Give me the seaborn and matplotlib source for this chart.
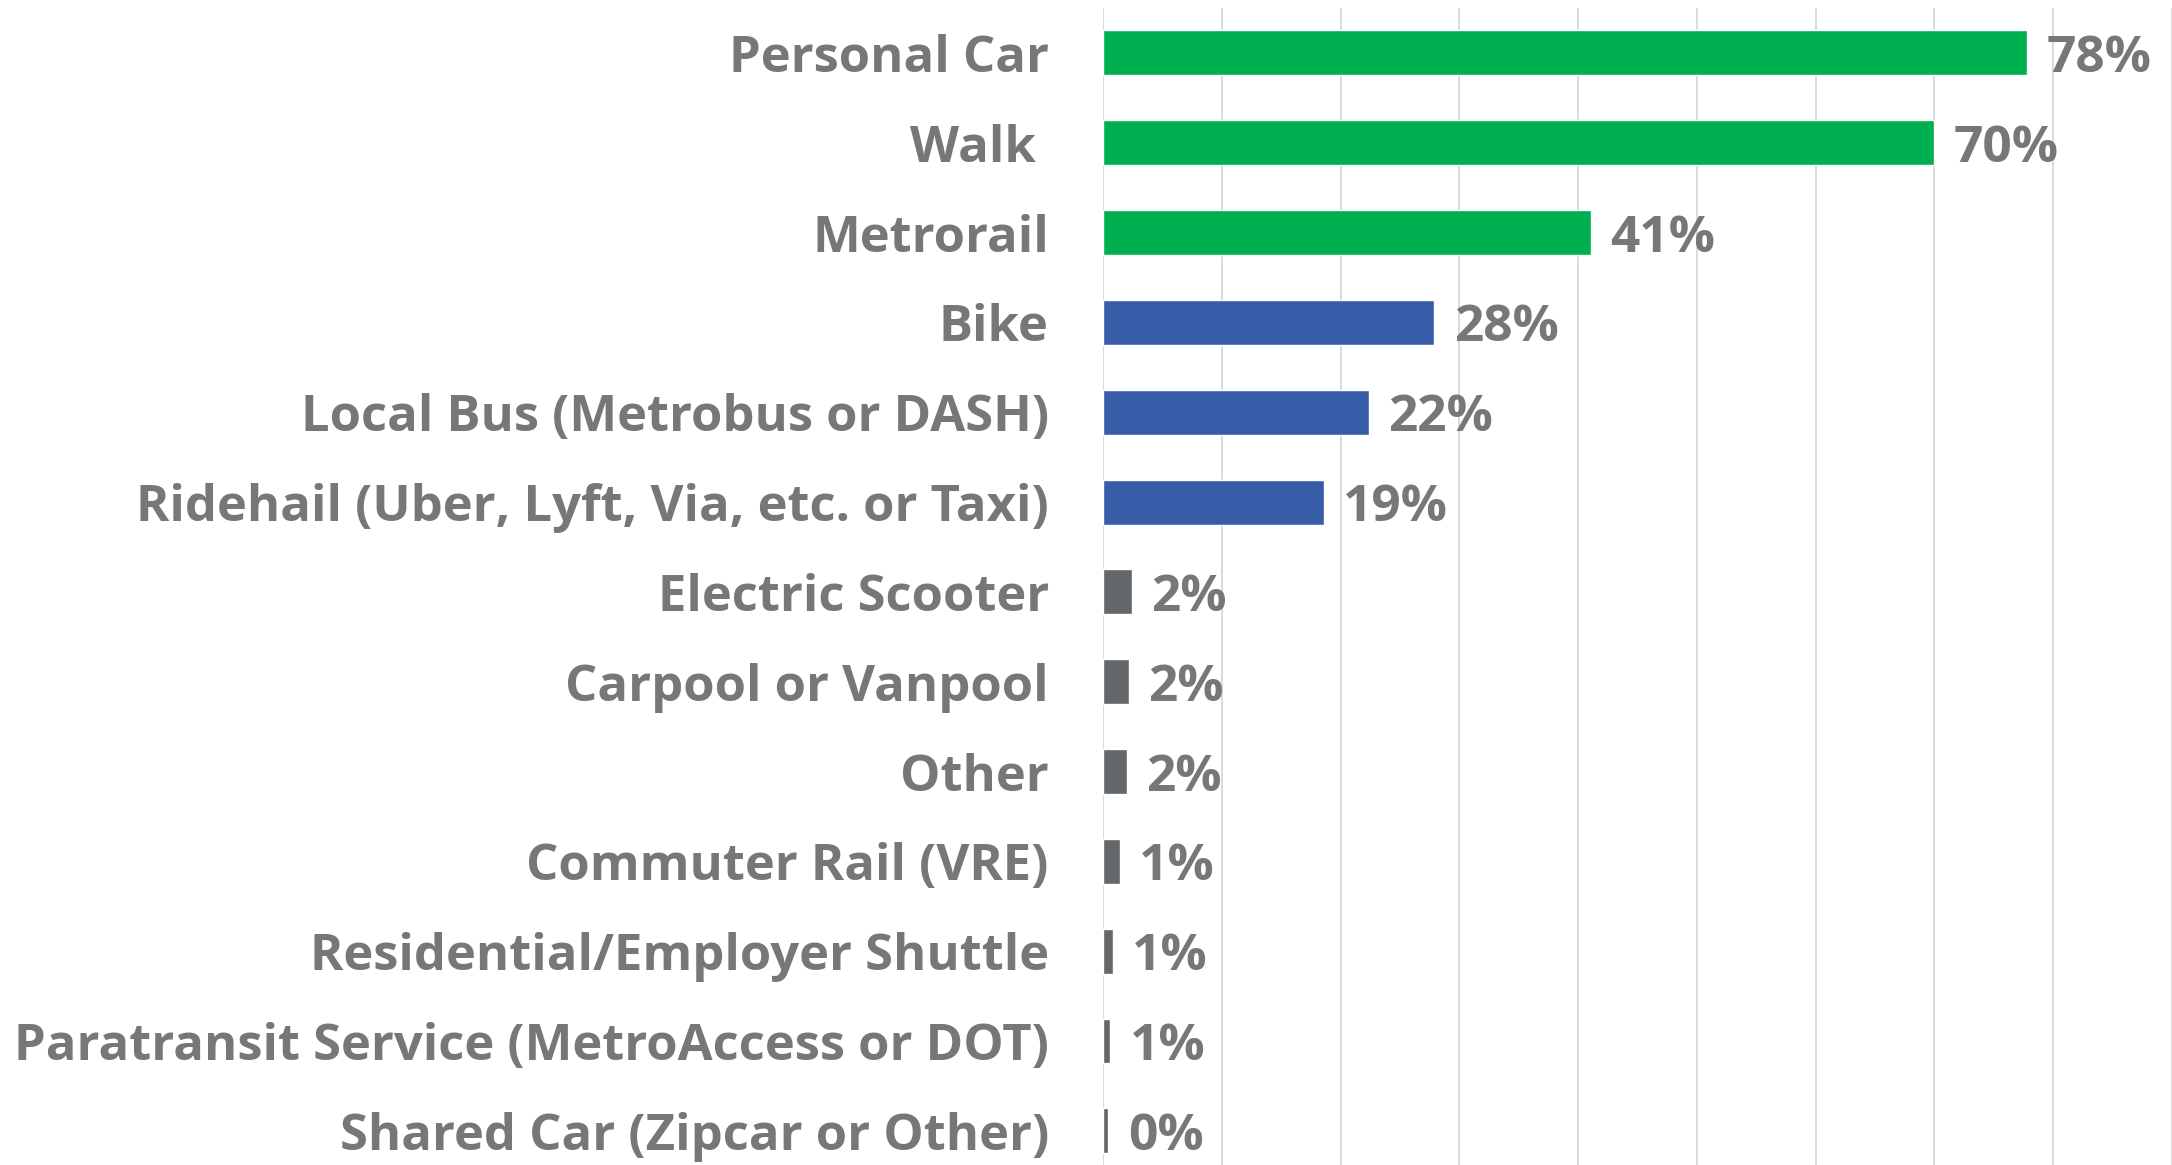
import pandas as pd
import matplotlib.pyplot as plt
import seaborn as sns

# Dados (percentual de respondentes por modo)
modos = [
    'Personal Car',
    'Walk ',
    'Metrorail',
    'Bike',
    'Local Bus (Metrobus or DASH)',
    'Ridehail (Uber, Lyft, Via, etc. or Taxi)',
    'Electric Scooter',
    'Carpool or Vanpool',
    'Other',
    'Commuter Rail (VRE)',
    'Residential/Employer Shuttle',
    'Paratransit Service (MetroAccess or DOT)',
    'Shared Car (Zipcar or Other)',
]
percentuais = [77.8, 70.0, 41.1, 27.9, 22.4, 18.6, 2.4, 2.2, 2.0, 1.4, 0.8, 0.6, 0.45]
grupos = ['alto'] * 3 + ['medio'] * 3 + ['baixo'] * 7

cores = {'alto': '#00B050', 'medio': '#385DA8', 'baixo': '#63676A'}
cinza_texto = '#777777'

df = pd.DataFrame({'modo': modos, 'pct': percentuais, 'grupo': grupos})

sns.set_style('white')
plt.rcParams['font.family'] = ['Open Sans', 'DejaVu Sans']

fig = plt.figure(figsize=(21.72, 11.65), dpi=100)
ax = fig.add_axes([1103 / 2172, 0, 1 - 1103 / 2172, 1 - 8 / 1165])

sns.barplot(data=df, x='pct', y='modo', hue='grupo', palette=cores,
            dodge=False, width=0.5, legend=False, ax=ax, saturation=1)

# Rótulos de valor
for cont in ax.containers:
    rotulos = ax.bar_label(cont, labels=[f'{round(b.get_width())}%' for b in cont],
                           padding=14, fontsize=37, fontweight='bold', color=cinza_texto)
    for r in rotulos:
        r.set_va('center_baseline')

ax.set_xlim(0, 90)
ax.set_ylim(12.38, -0.5)
ax.set_xticks(range(0, 91, 10))
ax.set_xticklabels([])
ax.grid(axis='x', color='#d9d9d9', linewidth=1.4)
ax.set_axisbelow(True)
ax.set_xlabel('')
ax.set_ylabel('')
ax.tick_params(axis='y', length=0, pad=39, labelsize=36.5, labelcolor=cinza_texto)
for lbl in ax.get_yticklabels():
    lbl.set_fontweight('bold')
for s in ax.spines.values():
    s.set_visible(False)

fig.savefig('out.png', dpi=100)
